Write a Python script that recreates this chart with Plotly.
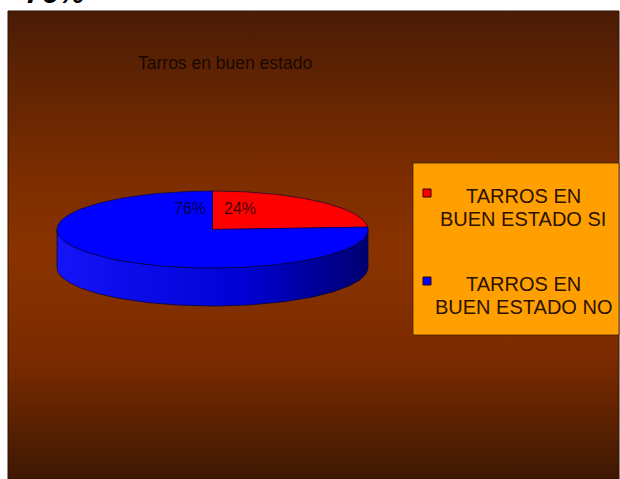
import numpy as np
import plotly.graph_objects as go

# Chart data
labels = ["TARROS EN BUEN ESTADO SI", "TARROS EN BUEN ESTADO NO"]
values = [24, 76]
slice_colors = ["#ff0000", "#0000ff"]
side_scales = [
    [[0, "#f01010"], [0.6, "#c80000"], [1, "#6e0000"]],
    [[0, "#1414f8"], [0.6, "#0000d4"], [1, "#000070"]],
]
title_text = "Tarros en buen estado"

W, H = 620, 479
# pie geometry (pixel space, y grows downward)
cx, cy, rx, ry, depth = 212.5, 229.5, 155.5, 38.5, 38

total = float(sum(values))
fracs = [v / total for v in values]
pct = [f"{round(f * 100)}%" for f in fracs]
bounds = np.concatenate([[0.0], np.cumsum(fracs)]) * 2 * np.pi


def arc(t0, t1, dy=0.0, n=120):
    t = np.linspace(t0, t1, n)
    return cx + rx * np.sin(t), cy - ry * np.cos(t) + dy


fig = go.Figure()

# frame with vertical gradient
fig.add_trace(go.Scatter(
    x=[8, 619, 619, 8, 8], y=[11, 11, 479, 479, 11],
    mode="lines", fill="toself",
    line=dict(color="#2a1200", width=1),
    fillgradient=dict(
        type="vertical", start=11, stop=479,
        colorscale=[[0, "#4a1b05"], [0.12, "#5c2203"], [0.35, "#7c2d00"],
                    [0.52, "#8a3300"], [0.75, "#7a2a00"], [1, "#3e1802"]],
    ),
    hoverinfo="skip", showlegend=False,
))

# visible side walls (front half of the disc)
for i in range(len(values)):
    lo, hi = max(bounds[i], np.pi / 2), min(bounds[i + 1], 3 * np.pi / 2)
    if lo >= hi:
        continue
    xt, yt = arc(lo, hi)
    xb, yb = arc(hi, lo, depth)
    xs = np.concatenate([xt, xb, xt[:1]])
    ys = np.concatenate([yt, yb, yt[:1]])
    fig.add_trace(go.Scatter(
        x=xs, y=ys, mode="lines", fill="toself",
        line=dict(color="rgba(0,0,50,0.7)", width=1),
        fillgradient=dict(type="horizontal", start=cx - rx, stop=cx + rx,
                          colorscale=side_scales[i]),
        hoverinfo="skip", showlegend=False,
    ))

# top faces
for i in range(len(values)):
    xa, ya = arc(bounds[i], bounds[i + 1])
    xs = np.concatenate([[cx], xa, [cx]])
    ys = np.concatenate([[cy], ya, [cy]])
    fig.add_trace(go.Scatter(
        x=xs, y=ys, mode="lines", fill="toself", fillcolor=slice_colors[i],
        line=dict(color="rgba(0,0,60,0.6)", width=1),
        name=labels[i], hoverinfo="skip", showlegend=False,
    ))

annotations = []
font = "Liberation Sans, Arial, sans-serif"

# percentage labels beside the 12 o'clock edge
annotations.append(dict(x=cx + 9, y=208, text=pct[0], xanchor="left", yanchor="middle",
                        showarrow=False, font=dict(family=font, size=16, color="rgba(0,0,0,0.75)")))
annotations.append(dict(x=cx - 5, y=208, text=pct[1], xanchor="right", yanchor="middle",
                        showarrow=False, font=dict(family=font, size=16, color="rgba(0,0,0,0.75)")))

# chart title
annotations.append(dict(x=136, y=63, text=title_text, xanchor="left", yanchor="middle",
                        showarrow=False, font=dict(family=font, size=17.5, color="#1a0800")))

# large value label clipped at the top edge
annotations.append(dict(x=23, y=11, text=f"<b><i>{pct[1]}</i></b>", xanchor="left", yanchor="bottom",
                        showarrow=False, font=dict(family=font, size=30, color="#000000")))

# legend box
shapes = [dict(type="rect", xref="x", yref="y", x0=413, x1=619, y0=163, y1=335,
               fillcolor="#ffa000", line=dict(color="rgba(50,20,0,0.7)", width=1), layer="above")]
item_y = [193, 281]
for i, lab in enumerate(labels):
    words = lab.split(" ")
    lines = [" ".join(words[:2]), " ".join(words[2:])]
    shapes.append(dict(type="rect", xref="x", yref="y", x0=423, x1=431,
                       y0=item_y[i] - 4, y1=item_y[i] + 4,
                       fillcolor=slice_colors[i], line=dict(color="#300010", width=1), layer="above"))
    for k, ln in enumerate(lines):
        annotations.append(dict(x=523, y=item_y[i] + 3 + 23 * k, text=ln, xanchor="center",
                                yanchor="middle", showarrow=False,
                                font=dict(family=font, size=20, color="#2b1200")))

fig.update_layout(
    width=W, height=H, margin=dict(l=0, r=0, t=0, b=0),
    paper_bgcolor="white", plot_bgcolor="white",
    xaxis=dict(range=[0, W], visible=False, fixedrange=True),
    yaxis=dict(range=[H, 0], visible=False, fixedrange=True),
    shapes=shapes, annotations=annotations, showlegend=False,
)

fig.write_html("out.html")
